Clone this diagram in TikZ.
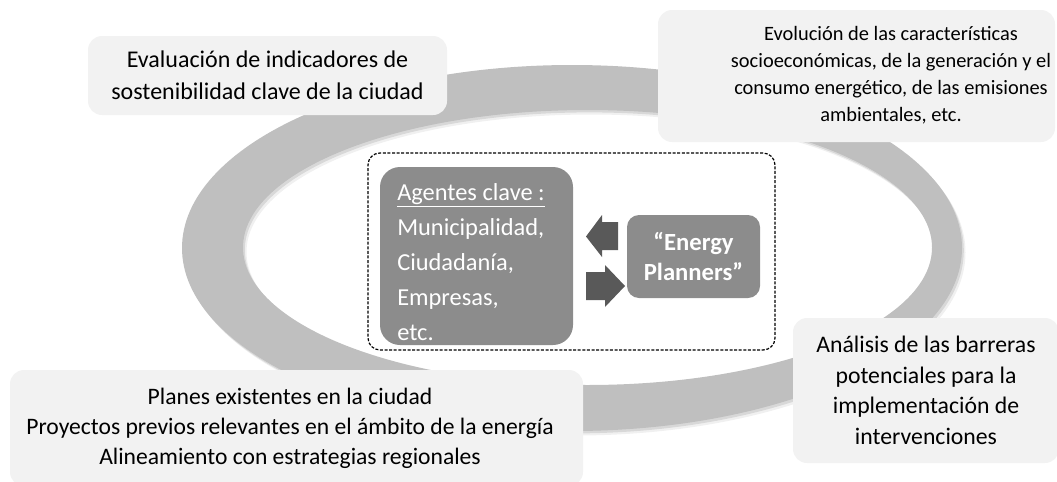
\documentclass[tikz,border=0pt]{standalone}
\usepackage{fontspec}
\setmainfont{Carlito}
\newdimen\upx \upx=0.75pt
\definecolor{ringgray}{RGB}{191,191,191}
\definecolor{boxgray}{RGB}{242,242,242}
\definecolor{midgray}{RGB}{140,140,140}
\definecolor{arrowgray}{RGB}{89,89,89}
\begin{document}
\begin{tikzpicture}[x=0.75pt,y=-0.75pt,
  lightbox/.style={fill=boxgray, rounded corners=14\upx, inner sep=0pt},
  darkbox/.style={fill=midgray, rounded corners=#1, inner sep=0pt},
  ringshape/.style={even odd rule},
  txta/.style={align=center, font=\fontsize{18pt}{24pt}\selectfont},
  txtb/.style={align=center, font=\fontsize{15.3pt}{20.3pt}\selectfont},
  txtc/.style={align=center, font=\fontsize{17.8pt}{23pt}\selectfont},
  txtd/.style={align=center, font=\fontsize{17.7pt}{22.5pt}\selectfont},
  agtxt/.style={align=left, text=white, font=\fontsize{18.3pt}{26.2pt}\selectfont, inner sep=0pt},
  eptxt/.style={align=center, text=white, font=\bfseries\fontsize{18.5pt}{22.5pt}\selectfont, inner sep=0pt},
  dashbox/.style={draw=black, line width=0.9pt, dash pattern=on 3\upx off 1.6\upx, rounded corners=12\upx}
]
\useasboundingbox (0,0) rectangle (1057,482);
\clip (0,0) rectangle (1057,482);

% ring with soft shadow
\fill[black, opacity=0.06, ringshape, shift={(3.5,4.5)}]
  (572,248) ellipse [x radius=390\upx, y radius=183\upx]
  (587.5,247.5) ellipse [x radius=344.5\upx, y radius=137.5\upx];
\fill[black, opacity=0.10, ringshape, shift={(1.8,2.4)}]
  (572,248) ellipse [x radius=390\upx, y radius=183\upx]
  (587.5,247.5) ellipse [x radius=344.5\upx, y radius=137.5\upx];
\fill[ringgray, ringshape]
  (572,248) ellipse [x radius=390\upx, y radius=183\upx]
  (587.5,247.5) ellipse [x radius=344.5\upx, y radius=137.5\upx];

% outer text boxes
\node[lightbox, txta, minimum width=359\upx, minimum height=79\upx] (eval) at (267.5,75.5)
  {Evaluación de indicadores de\\sostenibilidad clave de la ciudad};

\node[lightbox, minimum width=397\upx, minimum height=132\upx] (evolbox) at (856.5,76) {};
\node[txtb, inner sep=0pt] (evol) at (891,75)
  {Evolución de las características\\socioeconómicas, de la generación y el\\consumo energético, de las emisiones\\ambientales, etc.};

\node[lightbox, txtc, minimum width=266\upx, minimum height=145\upx] (anal) at (926,390.5)
  {Análisis de las barreras\\potenciales para la\\implementación de\\intervenciones};

\node[lightbox, minimum width=573\upx, minimum height=116\upx] (planbox) at (296.5,428) {};
\node[txtd, inner sep=0pt] (plan) at (290,428)
  {Planes existentes en la ciudad\\Proyectos previos relevantes en el ámbito de la energía\\Alineamiento con estrategias regionales};

% central group
\node[dashbox, minimum width=407\upx, minimum height=197\upx, inner sep=0pt] (group) at (571.5,251.5) {};
\node[darkbox=20\upx, minimum width=193\upx, minimum height=178\upx] (agent) at (476.5,256) {};
\node[agtxt, anchor=west] (agenttxt) at (397,262)
  {\underline{Agentes clave :}\\Municipalidad,\\Ciudadanía,\\Empresas,\\etc.};
\node[darkbox=12\upx, eptxt, minimum width=133\upx, minimum height=83\upx] (ep) at (693.5,256.5)
  {“Energy\\Planners”};

% block arrows
\fill[arrowgray] (618,222) -- (602,222) -- (602,215) -- (586,236.5) -- (602,257) -- (602,250) -- (618,250) -- cycle;
\fill[arrowgray] (586,272) -- (605,272) -- (605,265) -- (625,286) -- (605,307) -- (605,300) -- (586,300) -- cycle;
\end{tikzpicture}
\end{document}
